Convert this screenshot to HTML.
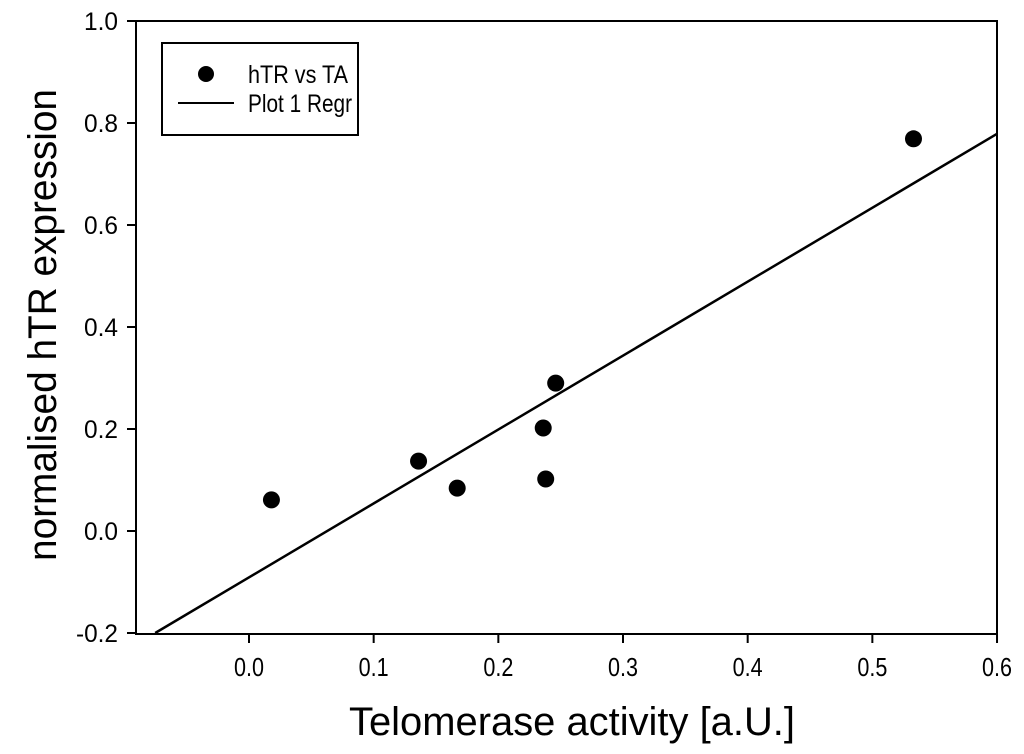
<!DOCTYPE html>
<html><head><meta charset="utf-8"><style>
html,body{margin:0;padding:0;background:#fff;width:1024px;height:754px;overflow:hidden}
svg{display:block;font-family:"Liberation Sans",Arial,sans-serif}
</style></head><body>
<svg id="chart" width="1024" height="754" viewBox="0 0 1024 754">
<g id="frame"></g>
<g id="xaxis"></g>
<g id="yaxis"></g>
<g id="series"></g>
<text x="572" y="735" font-size="40" text-anchor="middle" textLength="446" lengthAdjust="spacingAndGlyphs">Telomerase activity [a.U.]</text>
<text transform="translate(56,325) rotate(-90)" font-size="40" text-anchor="middle" textLength="472" lengthAdjust="spacingAndGlyphs">normalised hTR expression</text>
<g>
<rect x="162" y="43" width="196" height="92" fill="#fff" stroke="#000" stroke-width="2"/>
<circle cx="206" cy="74" r="8" fill="#000"/>
<text x="248" y="83" font-size="25" textLength="100" lengthAdjust="spacingAndGlyphs">hTR vs TA</text>
<line x1="178" y1="103" x2="234" y2="103" stroke="#000" stroke-width="2"/>
<text x="248" y="112" font-size="25" textLength="104" lengthAdjust="spacingAndGlyphs">Plot 1 Regr</text>
</g>
</svg>
<script>
const xValues = [0.018, 0.136, 0.167, 0.236, 0.238, 0.246, 0.533];
const yValues = [0.061, 0.137, 0.084, 0.202, 0.102, 0.290, 0.769];
const xTicks = [0.0, 0.1, 0.2, 0.3, 0.4, 0.5, 0.6];
const yTicks = [-0.2, 0.0, 0.2, 0.4, 0.6, 0.8, 1.0];
const xTickLabels = ["0.0","0.1","0.2","0.3","0.4","0.5","0.6"];
const yTickLabels = ["-0.2","0.0","0.2","0.4","0.6","0.8","1.0"];

const NS = "http://www.w3.org/2000/svg";
const L = 136, R = 997, T = 21, B = 634;
const xMin = (136 - 249) / 1246.7, xMax = 0.6;
function sx(v){ return 249 + v * 1246.7; }
function sy(v){ return 531 - v * 510; }
function mk(tag, attrs, parent){
  const e = document.createElementNS(NS, tag);
  for (const k in attrs) e.setAttribute(k, attrs[k]);
  parent.appendChild(e); return e;
}
const frame = document.getElementById('frame');
const fr = mk('rect', {x:L, y:T, width:R-L, height:B-T, fill:'none', stroke:'#000', 'stroke-width':2}, frame);



const xa = document.getElementById('xaxis');
xTicks.forEach((t, i) => {
  const x = sx(t);
  const tk = mk('line', {x1:x, x2:x, y1:B, y2:B+9, stroke:'#000', 'stroke-width':2}, xa);
  
  
  const lb = mk('text', {x:x, y:B+42, 'font-size':26, 'text-anchor':'middle', textLength:30, lengthAdjust:'spacingAndGlyphs'}, xa);
  lb.textContent = xTickLabels[i];
  
  
});
const ya = document.getElementById('yaxis');
yTicks.forEach((t, i) => {
  const y = sy(t);
  const tk = mk('line', {x1:L-9, x2:L, y1:y, y2:y, stroke:'#000', 'stroke-width':2}, ya);
  
  
  const w = yTickLabels[i].length > 3 ? 42 : 34;
  const lb = mk('text', {x:118, y:y+9, 'font-size':25, 'text-anchor':'end', textLength:w, lengthAdjust:'spacingAndGlyphs'}, ya);
  lb.textContent = yTickLabels[i];
  
  
});

const ser = document.getElementById('series');
const n = xValues.length;
const mx = xValues.reduce((a,b)=>a+b,0)/n, my = yValues.reduce((a,b)=>a+b,0)/n;
let sxy = 0, sxx = 0;
for (let i=0;i<n;i++){ sxy += (xValues[i]-mx)*(yValues[i]-my); sxx += (xValues[i]-mx)**2; }
const slope = sxy/sxx, icpt = my - slope*mx;
let x1 = Math.max(xMin, (-0.2 - icpt)/slope), x2 = Math.min(xMax, (1.0 - icpt)/slope);
const rl = mk('line', {x1:sx(x1), y1:sy(icpt+slope*x1), x2:sx(x2), y2:sy(icpt+slope*x2), stroke:'#000', 'stroke-width':2.5}, ser);


xValues.forEach((v, i) => {
  const c = mk('circle', {cx:sx(v), cy:sy(yValues[i]), r:8.5, fill:'#000'}, ser);
  
  
});
</script>
</body></html>
